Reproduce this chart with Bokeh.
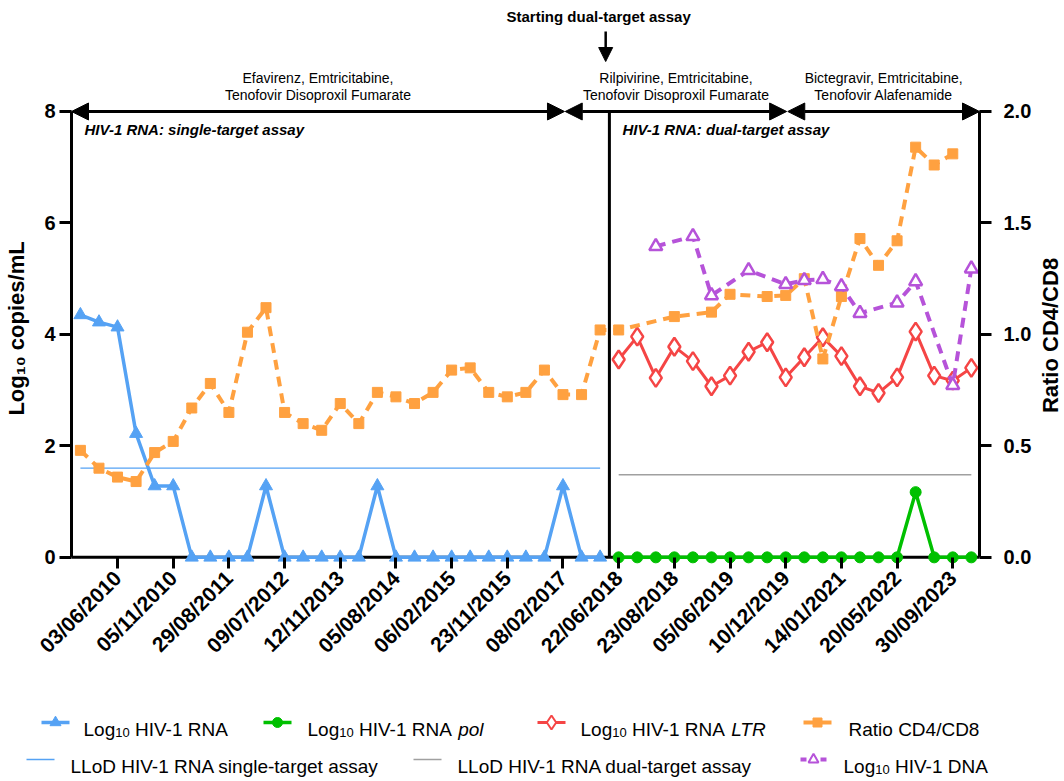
import math
from bokeh.plotting import figure
from bokeh.models import (Range1d, LinearAxis, FixedTicker, Span, Label, Arrow,
                          NormalHead, PrintfTickFormatter)
from bokeh.layouts import column, row
from bokeh.embed import file_html
from bokeh.resources import INLINE
from bokeh.core.properties import value

# ---------------- data ----------------
tick_idx = [2, 5, 8, 11, 14, 17, 20, 23, 26, 29, 32, 35, 38, 41, 44, 47]
tick_dates = ["03/06/2010", "05/11/2010", "29/08/2011", "09/07/2012", "12/11/2013",
              "05/08/2014", "06/02/2015", "23/11/2015", "08/02/2017", "22/06/2018",
              "23/08/2018", "05/06/2019", "10/12/2019", "14/01/2021", "20/05/2022",
              "30/09/2023"]

rna_x = [0, 1, 2, 3, 4, 5, 6, 7, 8, 9, 10, 11, 12, 13, 14, 15, 16, 17, 18, 19, 20,
         21, 22, 23, 24, 25, 26, 27, 28]
rna_y = [4.35, 4.22, 4.13, 2.22, 1.28, 1.28, 0, 0, 0, 0, 1.28, 0, 0, 0, 0, 0, 1.28,
         0, 0, 0, 0, 0, 0, 0, 0, 0, 1.28, 0, 0]

pol_x = [29, 30, 31, 32, 33, 34, 35, 36, 37, 38, 39, 40, 41, 42, 43, 44, 45, 46, 47, 48]
pol_y = [0, 0, 0, 0, 0, 0, 0, 0, 0, 0, 0, 0, 0, 0, 0, 0, 1.17, 0, 0, 0]

ltr_x = [29, 30, 31, 32, 33, 34, 35, 36, 37, 38, 39, 40, 41, 42, 43, 44, 45, 46, 47, 48]
ltr_y = [3.55, 3.96, 3.22, 3.78, 3.52, 3.07, 3.26, 3.69, 3.86, 3.23, 3.59, 3.95,
         3.61, 3.07, 2.95, 3.23, 4.05, 3.26, 3.17, 3.40]

ratio_x = [0, 1, 2, 3, 4, 5, 6, 7, 8, 9, 10, 11, 12, 13, 14, 15, 16, 17, 18, 19, 20,
           21, 22, 23, 24, 25, 26, 27, 28, 29, 32, 34, 35, 37, 38, 39, 40, 41, 42,
           43, 44, 45, 46, 47]
ratio_y = [0.48, 0.40, 0.36, 0.34, 0.47, 0.52, 0.67, 0.78, 0.65, 1.01, 1.12, 0.65,
           0.60, 0.57, 0.69, 0.60, 0.74, 0.72, 0.69, 0.74, 0.84, 0.85, 0.74, 0.72,
           0.74, 0.84, 0.73, 0.73, 1.02, 1.02, 1.08, 1.10, 1.18, 1.17, 1.175, 1.25,
           0.89, 1.17, 1.43, 1.31, 1.42, 1.84, 1.76, 1.81]

dna_x = [31, 33, 34, 36, 38, 39, 40, 41, 42, 44, 45, 47, 48]
dna_y = [5.58, 5.76, 4.70, 5.15, 4.90, 4.97, 4.99, 4.86, 4.38, 4.57, 4.95, 3.09, 5.18]

lod_single_x = [0, 28]
lod_single_y = [1.6, 1.6]
lod_dual_x = [29, 48]
lod_dual_y = [1.48, 1.48]

regimens = [("Efavirenz, Emtricitabine,", "Tenofovir Disoproxil Fumarate"),
            ("Rilpivirine, Emtricitabine,", "Tenofovir Disoproxil Fumarate"),
            ("Bictegravir, Emtricitabine,", "Tenofovir Alafenamide")]
regimen_bounds = [(-0.48, 26.08), (26.12, 38.05), (38.11, 48.44)]
assay_switch = 28.5

# ---------------- style ----------------
BLUE = "#55a2f4"
GREEN = "#00c000"
RED = "#f54545"
ORANGE = "#ffa140"
PURPLE = "#b653d9"
GREY = "#a0a0a0"
FONT = "Liberation Sans"

XR = Range1d(-0.48, 48.44)
MAINW = 1034
BL, BR = 71, 55
TOP_H = 88
MAIN_H = 595
PX = 55.75                      # pixels per log unit
YTOP = 8 + (111 - TOP_H) / PX   # value at the top of the plotting frame

# ---------------- top annotation strip ----------------
top = figure(width=MAINW, height=TOP_H, x_range=XR, y_range=Range1d(TOP_H, 0),
             output_backend="svg", toolbar_location=None, min_border_left=BL,
             min_border_right=BR, min_border_top=0, min_border_bottom=0,
             x_axis_type=None, y_axis_type=None)
top.outline_line_color = None
top.xgrid.visible = False
top.ygrid.visible = False
top.background_fill_color = "white"
top.border_fill_color = "white"

reg_mid = [(a + b) / 2 for a, b in regimen_bounds]
top.text(x=reg_mid, y=[77, 77, 77], text=[r[0] for r in regimens], text_align="center",
         text_baseline="middle", text_font=value(FONT), text_font_size="14px",
         text_color="black")
top.text(x=[27.92], y=[16], text=["Starting dual-target assay"], text_align="center",
         text_baseline="middle", text_font=value(FONT), text_font_size="15px",
         text_font_style="bold", text_color="black")
top.add_layout(Arrow(end=NormalHead(size=14, fill_color="black", line_color="black"),
                     start=None, x_start=28.3, y_start=31, x_end=28.3, y_end=61,
                     line_width=2.5, line_color="black"))

# ---------------- main chart ----------------
p = figure(width=MAINW, height=MAIN_H, x_range=XR,
           y_range=Range1d(-0.2, YTOP), output_backend="svg", toolbar_location=None,
           min_border_left=BL, min_border_right=BR, min_border_top=0,
           min_border_bottom=115)
p.extra_y_ranges = {"ratio": Range1d(-0.05, YTOP / 4)}
p.xgrid.visible = False
p.ygrid.visible = False
p.outline_line_color = None
p.background_fill_color = "white"
p.border_fill_color = "white"

ya = p.yaxis[0]
ya.bounds = (0, 8)
ya.ticker = FixedTicker(ticks=[0, 2, 4, 6, 8])
ya.axis_line_width = 3
ya.major_tick_line_width = 3
ya.major_tick_out = 12
ya.major_tick_in = 0
ya.minor_tick_line_color = None
ya.major_label_text_font = FONT
ya.major_label_text_font_size = "20px"
ya.major_label_text_font_style = "bold"
ya.major_label_text_color = "black"
ya.major_label_standoff = 4
ya.axis_label = "Log\u2081\u2080 copies/mL"
ya.axis_label_text_font = FONT
ya.axis_label_text_font_size = "22px"
ya.axis_label_text_font_style = "bold"
ya.axis_label_text_color = "black"
ya.axis_label_standoff = 12

ry = LinearAxis(y_range_name="ratio", bounds=(0, 2),
                ticker=FixedTicker(ticks=[0, 0.5, 1.0, 1.5, 2.0]),
                formatter=PrintfTickFormatter(format="%.1f"))
ry.axis_line_width = 3
ry.major_tick_line_width = 3
ry.major_tick_out = 12
ry.major_tick_in = 0
ry.minor_tick_line_color = None
ry.major_label_text_font = FONT
ry.major_label_text_font_size = "20px"
ry.major_label_text_font_style = "bold"
ry.major_label_text_color = "black"
ry.major_label_standoff = 12
p.add_layout(ry, "right")

xa = p.xaxis[0]
xa.ticker = FixedTicker(ticks=tick_idx)
xa.major_label_overrides = {t: d for t, d in zip(tick_idx, tick_dates)}
xa.major_label_orientation = math.pi / 4
xa.axis_line_color = None
xa.major_tick_in = 11
xa.major_tick_out = 0
xa.major_tick_line_width = 3
xa.minor_tick_line_color = None
xa.major_label_text_font = FONT
xa.major_label_text_font_size = "21px"
xa.major_label_text_font_style = "bold"
xa.major_label_text_color = "black"
xa.major_label_standoff = 6

base = Span(location=0, dimension="width", line_color="black", line_width=3,
            level="underlay")
p.add_layout(base)

p.segment(x0=[assay_switch], y0=[0], x1=[assay_switch], y1=[8],
          line_color="black", line_width=3)

p.line(lod_single_x, lod_single_y, line_color=BLUE, line_width=1.3)
p.line(lod_dual_x, lod_dual_y, line_color=GREY, line_width=1.5)

p.line(rna_x, rna_y, line_color=BLUE, line_width=3.5)
p.scatter(rna_x, rna_y, marker="triangle", size=13, color=BLUE)

p.line(pol_x, pol_y, line_color=GREEN, line_width=3.5)
p.scatter(pol_x, pol_y, marker="circle", size=11, color=GREEN)

p.line(ltr_x, ltr_y, line_color=RED, line_width=3)
p.scatter(ltr_x, ltr_y, marker="diamond", size=18, fill_color="white",
          line_color=RED, line_width=2.5)

p.line(ratio_x, ratio_y, y_range_name="ratio", line_color=ORANGE, line_width=4,
       line_dash="10 7")
p.scatter(ratio_x, ratio_y, y_range_name="ratio", marker="square", size=10,
          color=ORANGE)

p.line(dna_x, dna_y, line_color=PURPLE, line_width=4, line_dash="10 7")
p.scatter(dna_x, dna_y, marker="triangle", size=13, fill_color="white",
          line_color=PURPLE, line_width=2.5)

for a, b in regimen_bounds:
    p.add_layout(Arrow(start=NormalHead(size=17, fill_color="black", line_color="black"),
                       end=NormalHead(size=17, fill_color="black", line_color="black"),
                       x_start=a, y_start=8, x_end=b, y_end=8,
                       line_width=3, line_color="black"))

# second line of each regimen name, just above the arrows
line2_y = 8 + (111 - 95) / PX
p.text(x=reg_mid, y=[line2_y] * 3, text=[r[1] for r in regimens], text_align="center",
       text_baseline="middle", text_font=value(FONT), text_font_size="14px",
       text_color="black")

p.add_layout(Label(x=0.22, y=7.68, text="HIV-1 RNA: single-target assay",
                   text_align="left", text_baseline="middle", text_font=FONT,
                   text_font_size="15px", text_font_style="bold italic",
                   text_color="black"))
p.add_layout(Label(x=29.2, y=7.68, text="HIV-1 RNA: dual-target assay",
                   text_align="left", text_baseline="middle", text_font=FONT,
                   text_font_size="15px", text_font_style="bold italic",
                   text_color="black"))

# ---------------- right axis title strip ----------------
RW = 1064 - MAINW
RH = TOP_H + MAIN_H
rfig = figure(width=RW, height=RH, x_range=Range1d(0, RW), y_range=Range1d(RH, 0),
              output_backend="svg", toolbar_location=None, min_border_left=0,
              min_border_right=0, min_border_top=0, min_border_bottom=0,
              x_axis_type=None, y_axis_type=None)
rfig.outline_line_color = None
rfig.xgrid.visible = False
rfig.ygrid.visible = False
rfig.background_fill_color = "white"
rfig.border_fill_color = "white"
rfig.text(x=[16], y=[335], text=["Ratio CD4/CD8"], angle=math.pi / 2,
          text_align="center", text_baseline="middle", text_font=value(FONT),
          text_font_size="22px", text_font_style="bold", text_color="black")

# ---------------- legend ----------------
W = {' ': 278, '-': 333, '/': 278, ',': 278, '.': 278, ':': 278}
for d in "0123456789":
    W[d] = 556
W.update({'A': 667, 'B': 667, 'C': 722, 'D': 722, 'E': 667, 'F': 611, 'G': 778, 'H': 722,
          'I': 278, 'L': 556, 'M': 833, 'N': 722, 'O': 778, 'P': 667, 'R': 722, 'S': 667,
          'T': 611, 'V': 667})
W.update({'a': 556, 'b': 556, 'c': 500, 'd': 556, 'e': 556, 'f': 278, 'g': 556, 'h': 556,
          'i': 222, 'j': 222, 'k': 500, 'l': 222, 'm': 833, 'n': 556, 'o': 556, 'p': 556,
          'q': 556, 'r': 333, 's': 500, 't': 278, 'u': 556, 'v': 500, 'w': 722, 'x': 500,
          'y': 500, 'z': 500})


def tw(s, size):
    return sum(W.get(c, 556) for c in s) * size / 1000.0


LH = 96
lg = figure(width=1064, height=LH, x_range=Range1d(0, 1064), y_range=Range1d(LH, 0),
            output_backend="svg", toolbar_location=None, min_border_left=0,
            min_border_right=0, min_border_top=0, min_border_bottom=0,
            x_axis_type=None, y_axis_type=None)
lg.outline_line_color = None
lg.background_fill_color = "white"
lg.border_fill_color = "white"
lg.xgrid.visible = False
lg.ygrid.visible = False

FS = 19
SUB = 13


def rich(x, yb, parts):
    xs, ys, ts, sizes, styles = [], [], [], [], []
    for txt, kind in parts:
        size = SUB if kind == "sub" else FS
        lead = len(txt) - len(txt.lstrip(" "))
        x += lead * tw(" ", size)
        core = txt.strip(" ")
        xs.append(x)
        ys.append(yb + 3 if kind == "sub" else yb)
        ts.append(core)
        sizes.append(f"{size}px")
        styles.append("normal" if kind == "sub" else kind)
        x += tw(core, size)
        trail = len(txt) - len(txt.rstrip(" "))
        x += trail * tw(" ", size)
    lg.text(x=xs, y=ys, text=ts, text_font_size=sizes, text_font_style=styles,
            text_font=value(FONT), text_align="left", text_baseline="alphabetic",
            text_color="black")


r1c, r2c = 39, 76
r1b, r2b = r1c + 7, r2c + 7

lg.line([41, 69], [r1c, r1c], line_color=BLUE, line_width=3.5)
lg.scatter([55], [r1c], marker="triangle", size=11, color=BLUE)
rich(83, r1b, [("Log", "normal"), ("10", "sub"), (" HIV-1 RNA", "normal")])

lg.line([263, 291], [r1c, r1c], line_color=GREEN, line_width=3.5)
lg.scatter([277], [r1c], marker="circle", size=10, color=GREEN)
rich(307, r1b, [("Log", "normal"), ("10", "sub"), (" HIV-1 RNA ", "normal"),
                ("pol", "italic")])

lg.line([537, 565], [r1c, r1c], line_color=RED, line_width=3)
lg.scatter([551], [r1c], marker="diamond", size=14, fill_color="white",
           line_color=RED, line_width=2)
rich(580, r1b, [("Log", "normal"), ("10", "sub"), (" HIV-1 RNA ", "normal"),
                ("LTR", "italic")])

lg.line([803, 831], [r1c, r1c], line_color=ORANGE, line_width=4)
lg.scatter([817], [r1c], marker="square", size=9, color=ORANGE)
rich(848, r1b, [("Ratio CD4/CD8", "normal")])

lg.line([26, 54], [r2c, r2c], line_color=BLUE, line_width=1.3)
rich(70, r2b, [("LLoD HIV-1 RNA single-target assay", "normal")])

lg.line([413, 441], [r2c, r2c], line_color=GREY, line_width=1.5)
rich(457, r2b, [("LLoD HIV-1 RNA dual-target assay", "normal")])

lg.line([800, 826], [r2c, r2c], line_color=PURPLE, line_width=4, line_dash="6 4")
lg.scatter([813], [r2c], marker="triangle", size=10, fill_color="white",
           line_color=PURPLE, line_width=2)
rich(843, r2b, [("Log", "normal"), ("10", "sub"), (" HIV-1 DNA", "normal")])

chart = column(row(column(top, p, spacing=0), rfig, spacing=0), lg, spacing=0)
open("out.html", "w").write(file_html(chart, INLINE))
